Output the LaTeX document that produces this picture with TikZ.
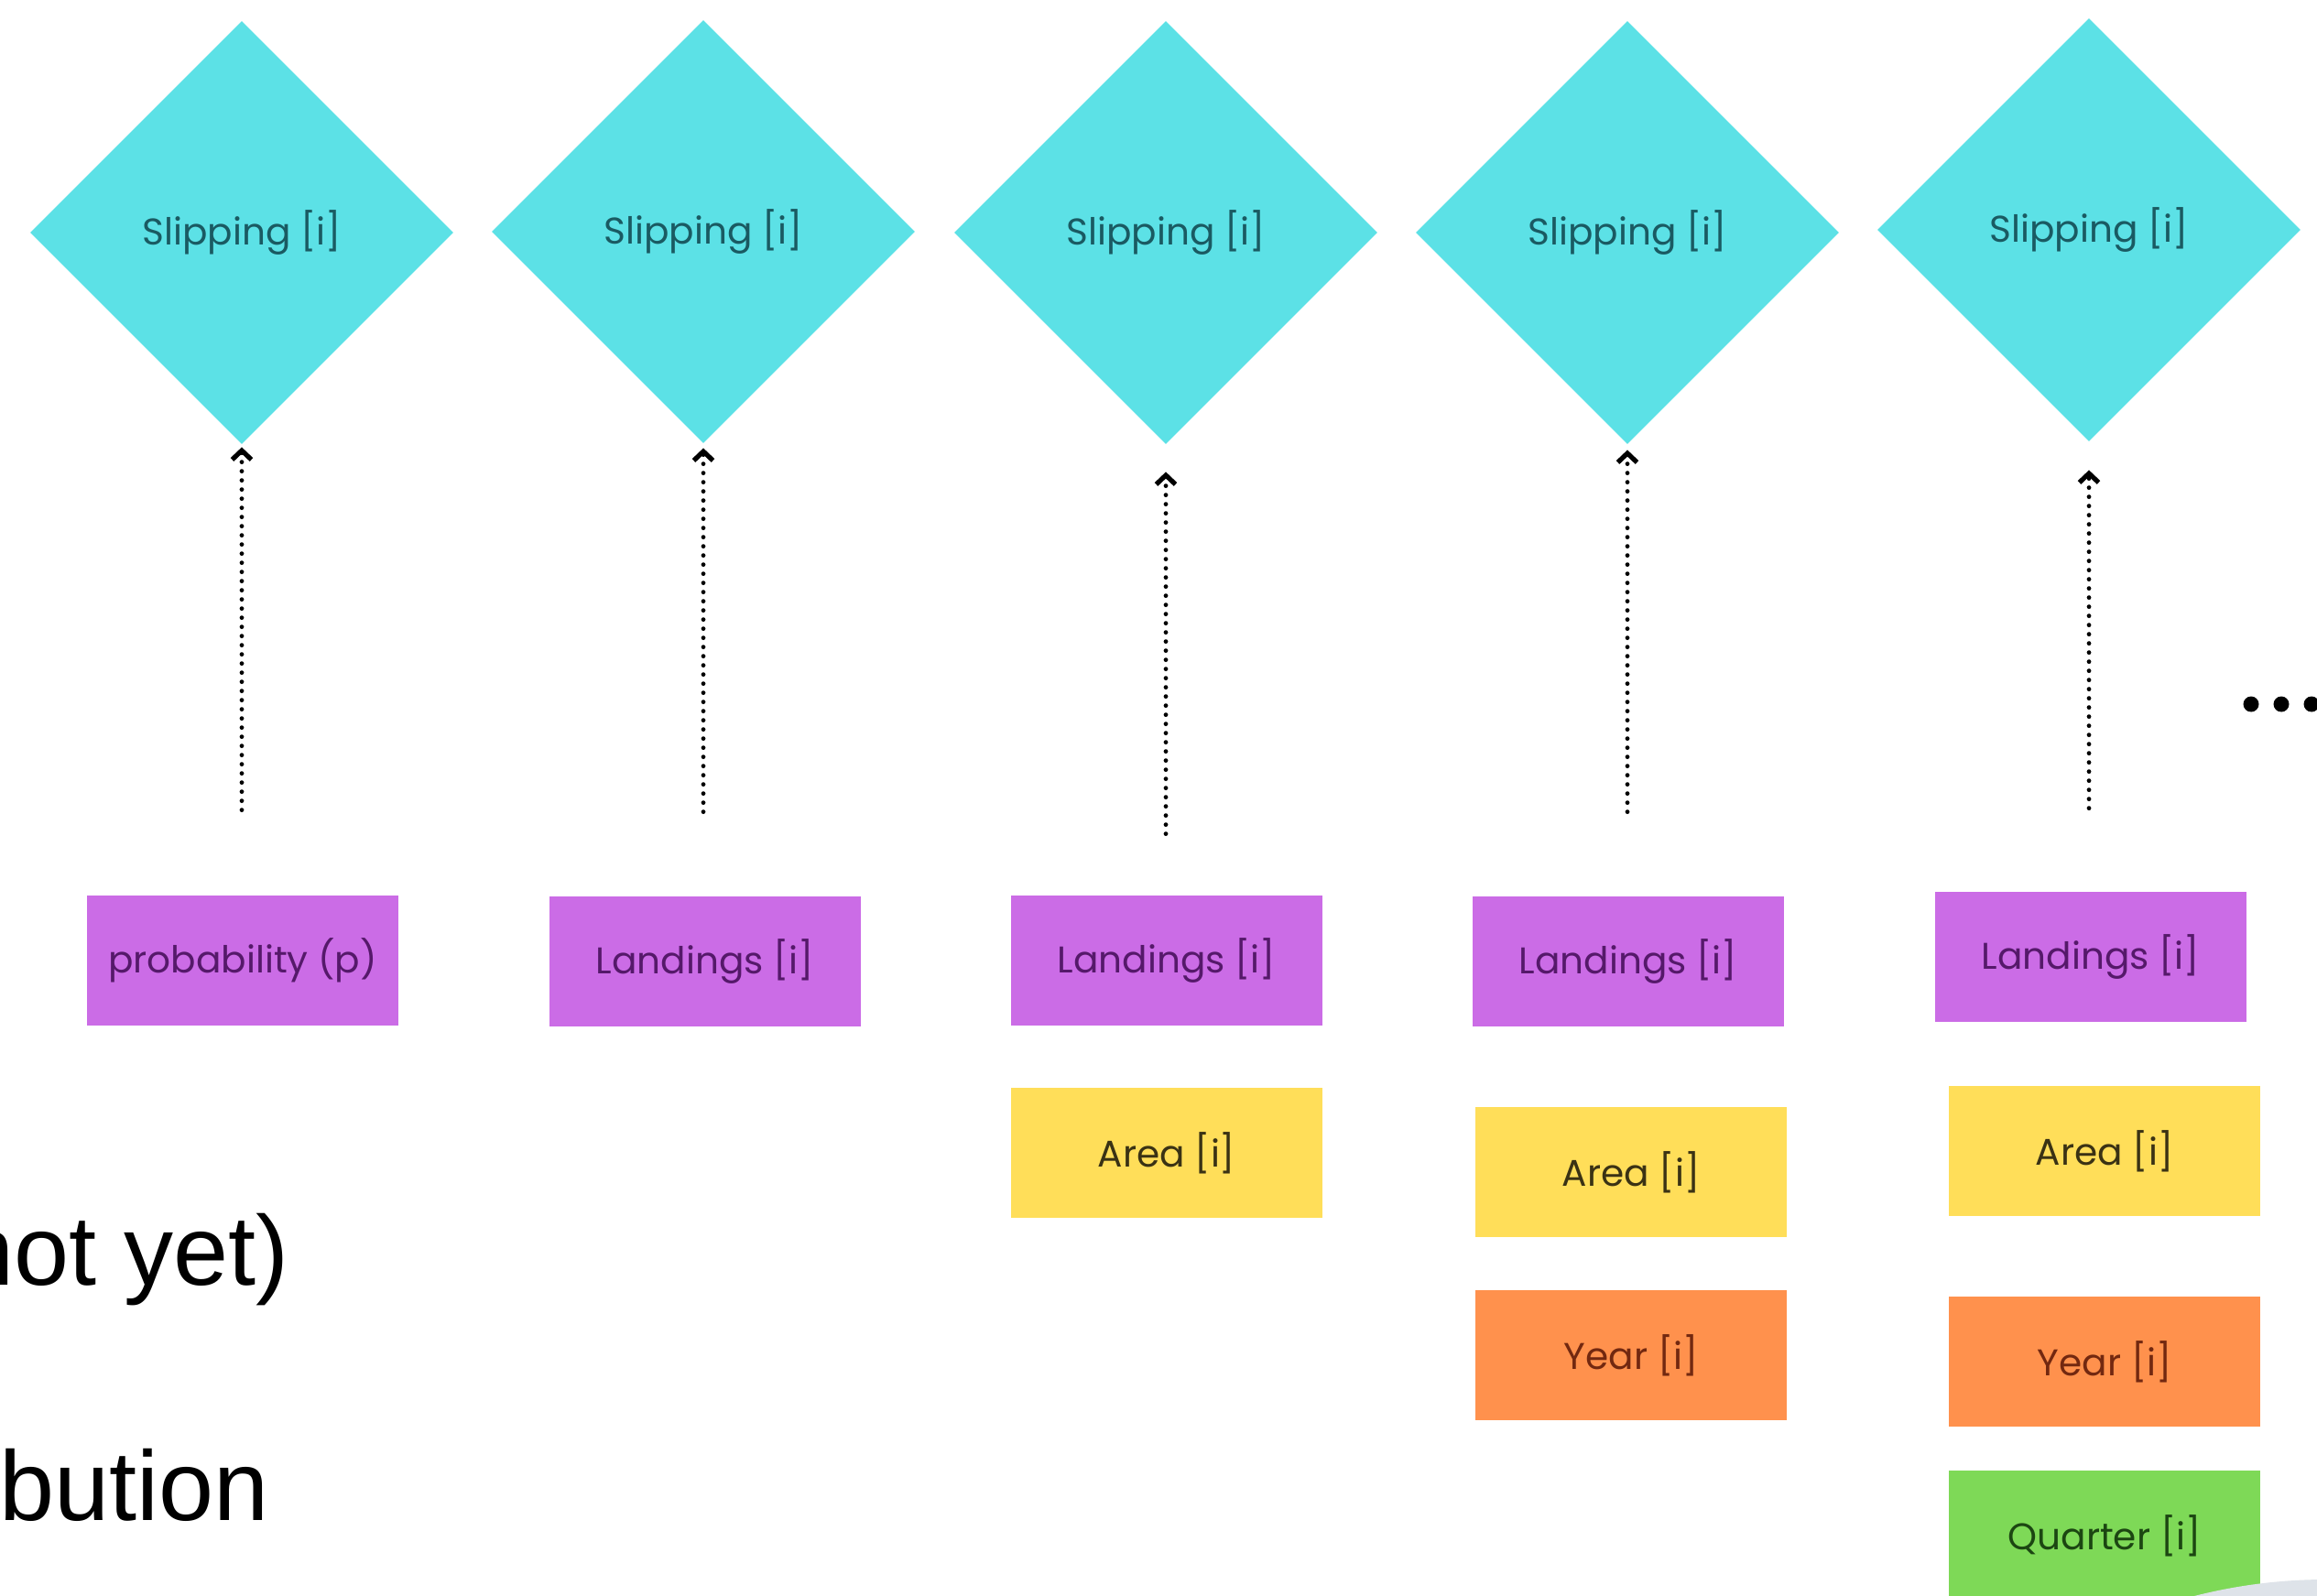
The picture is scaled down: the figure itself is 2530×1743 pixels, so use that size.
\documentclass[tikz,border=0pt]{standalone}
\usepackage{fontspec}
\setmainfont{Liberation Sans}
\newfontfamily\labelfont{Poppins}
\usetikzlibrary{shapes.geometric,arrows.meta}
\definecolor{cyanfill}{HTML}{5CE1E6}
\definecolor{cyantext}{HTML}{1A5A62}
\definecolor{purpfill}{HTML}{CB6CE6}
\definecolor{purptext}{HTML}{55196A}
\definecolor{yelfill}{HTML}{FFDE59}
\definecolor{yeltext}{HTML}{3A3214}
\definecolor{orafill}{HTML}{FF914D}
\definecolor{oratext}{HTML}{722810}
\definecolor{grnfill}{HTML}{7ED957}
\definecolor{grntext}{HTML}{1C4612}
\definecolor{greydisc}{HTML}{DEE3E9}
\begin{document}
\begin{tikzpicture}[x=0.5pt,y=-0.5pt,
  lbl/.style={font=\labelfont\fontsize{20.3}{24}\selectfont},
  dia/.style={diamond, aspect=1, fill=cyanfill, minimum width=231pt, minimum height=231pt, inner sep=0pt, text=cyantext, lbl},
  box/.style={rectangle, minimum width=170pt, minimum height=71pt, inner sep=0pt, lbl},
  pbox/.style={box, fill=purpfill, text=purptext},
  ybox/.style={box, fill=yelfill, text=yeltext},
  obox/.style={box, fill=orafill, text=oratext},
  gbox/.style={box, fill=grnfill, text=grntext},
  link/.style={line width=2.4pt, dash pattern=on 0pt off 5pt, line cap=round,
    -{Straight Barb[length=5pt,width=10.5pt,line width=2.6pt]}},
  bigtext/.style={font=\fontsize{54}{60}\selectfont, inner sep=0pt, anchor=base east}
]
\path[use as bounding box] (0,0) rectangle (2530,1743);
\clip (0,0) rectangle (2530,1743);
\fill[white] (0,0) rectangle (2530,1743);

% diamonds
\node[dia] (D1) at (264,254) {Slipping [i]};
\node[dia] (D2) at (768,253) {Slipping [i]};
\node[dia] (D3) at (1273,254) {Slipping [i]};
\node[dia] (D4) at (1777,254) {Slipping [i]};
\node[dia] (D5) at (2281,251) {Slipping [i]};

% boxes
\node[pbox] (P1) at (265,1049) {probability (p)};
\node[pbox] (L2) at (770,1050) {Landings [i]};
\node[pbox] (L3) at (1274,1049) {Landings [i]};
\node[pbox] (L4) at (1778,1050) {Landings [i]};
\node[pbox] (L5) at (2283,1045) {Landings [i]};
\node[ybox] (A3) at (1274,1259) {Area [i]};
\node[ybox] (A4) at (1781,1280) {Area [i]};
\node[ybox] (A5) at (2298,1257) {Area [i]};
\node[obox] (Y4) at (1781,1480) {Year [i]};
\node[obox] (Y5) at (2298,1487) {Year [i]};
\node[gbox] (Q5) at (2298,1677) {Quarter [i]};

% connectors
\draw[link, shorten <=46.5pt, shorten >=1.5pt] (D1.south |- P1.north) -- (D1.south);
\draw[link, shorten <=46pt, shorten >=2.5pt] (D2.south |- L2.north) -- (D2.south);
\draw[link, shorten <=33.5pt, shorten >=15pt] (D3.south |- L3.north) -- (D3.south);
\draw[link, shorten <=46pt, shorten >=3pt] (D4.south |- L4.north) -- (D4.south);
\draw[link, shorten <=45.5pt, shorten >=15.5pt] (D5.south |- L5.north) -- (D5.south);

% ellipsis
\fill (2458,769) circle[radius=8.5] (2491,769) circle[radius=8.5] (2524,769) circle[radius=8.5];

% left text (cut off at the left edge, as in the reference)
\node[bigtext] (T1) at (316,1403) {not yet)};
\node[bigtext] (T2) at (294,1660) {bution};

% grey disc at bottom right
\fill[greydisc] (2540,2305) circle[radius=580];
\end{tikzpicture}
\end{document}
